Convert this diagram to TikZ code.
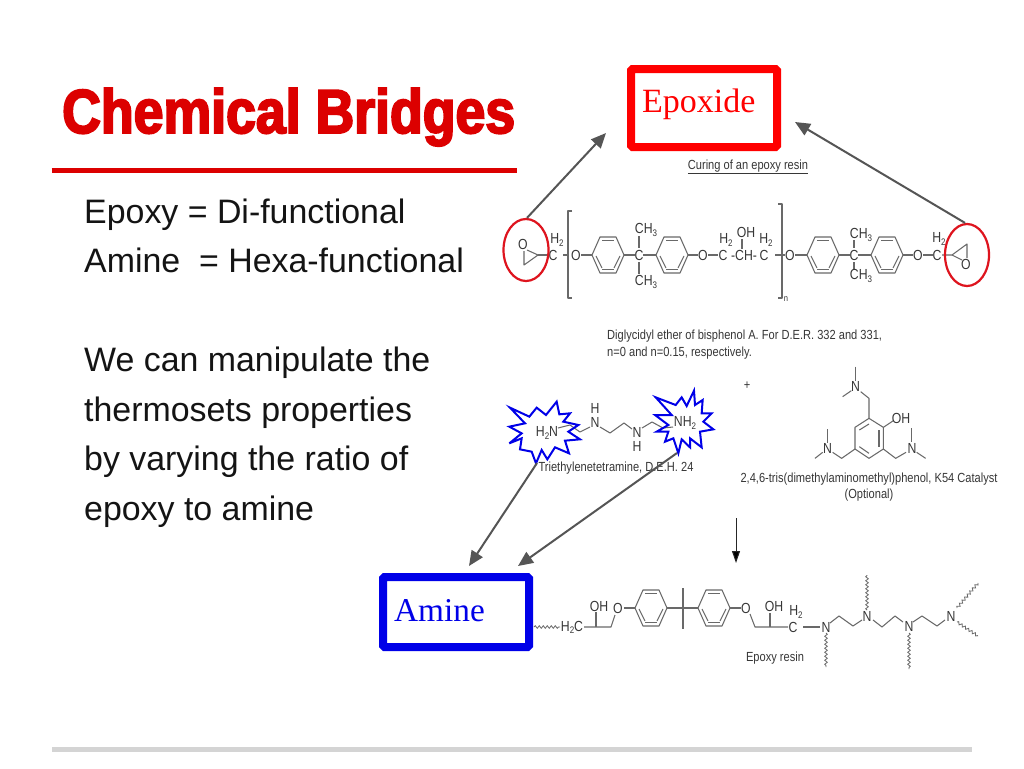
\documentclass[tikz,border=0pt]{standalone}
\usepackage{fontspec}
\setmainfont{Liberation Sans}
\newfontfamily\titlef[FakeBold=3.2,FakeStretch=0.865]{Liberation Sans Bold}
\newfontfamily\narrowf[FakeStretch=0.84]{Liberation Sans}
\newfontfamily\serifb{Liberation Serif}
\usetikzlibrary{arrows.meta,shapes.geometric,decorations.pathmorphing}
\definecolor{titlered}{RGB}{220,0,0}
\definecolor{boxred}{RGB}{255,0,0}
\definecolor{boxblue}{RGB}{0,0,232}
\definecolor{ringred}{RGB}{222,20,30}
\definecolor{bondgrey}{RGB}{105,105,105}
\definecolor{inkgrey}{RGB}{55,55,55}
\definecolor{arrowgrey}{RGB}{85,85,85}
\definecolor{rulegrey}{RGB}{212,212,212}
\newcommand{\mysub}[1]{\raisebox{-2.2pt}{\fontsize{9.5}{10}\selectfont #1}}
\newcommand{\benz}[2]{%
  \draw[bond] (#1-16,#2) -- (#1-8,#2-18) -- (#1+8,#2-18) -- (#1+16,#2) -- (#1+8,#2+18) -- (#1-8,#2+18) -- cycle;
  \draw[bond] (#1-6,#2-14.5) -- (#1+6,#2-14.5);
  \draw[bond] (#1-6,#2+14.5) -- (#1+6,#2+14.5);
  \draw[bond] (#1+12,#2+1) -- (#1+6,#2+13);
  \draw[bond] (#1-12,#2+1) -- (#1-6,#2+13);
}
\tikzset{
  x=1pt,y=-1pt,
  bond/.style={draw=bondgrey,line width=1.05pt,line join=round},
  squig/.style={draw=bondgrey,line width=0.8pt,decorate,decoration={snake,segment length=4pt,amplitude=1.3pt}},
  atomlbl/.style={font=\narrowf\fontsize{14.6}{15}\selectfont,text=inkgrey,inner sep=0pt},
  caption/.style={font=\narrowf\fontsize{13.2}{15}\selectfont,text=inkgrey,inner sep=0pt},
  bodytext/.style={font=\fontsize{33.9}{36}\selectfont,text=black!92,inner sep=0pt,anchor=base west},
  callbox/.style={draw,line width=8pt,rounded corners=1.5pt,inner sep=0pt},
  ringmark/.style={draw=ringred,line width=2.2pt,ellipse,inner sep=0pt,minimum width=45pt,minimum height=62pt},
  pointer/.style={draw=arrowgrey,line width=2pt,-{Triangle[length=15pt,width=13pt,fill=arrowgrey]}},
  star/.style={draw=boxblue,line width=2pt,line join=miter,miter limit=6},
}
\begin{document}
\begin{tikzpicture}
\useasboundingbox[fill=white] (0,0) rectangle (1024,768);
% title and rules
\node[inner sep=0pt,anchor=base west,text=titlered,font=\titlef\fontsize{62}{66}\selectfont] (title) at (62,133) {Chemical Bridges};
\draw[draw=titlered,line width=5.5pt] (51.5,170.5) -- (517,170.5);
\draw[draw=rulegrey,line width=5.5pt] (52,749.5) -- (972,749.5);
% body
\node[bodytext] (b1) at (84,223) {Epoxy = Di-functional};
\node[bodytext] (b2) at (84,272.5) {Amine\ \ = Hexa-functional};
\node[bodytext] (b3) at (84,371.5) {We can manipulate the};
\node[bodytext] (b4) at (84,421) {thermosets properties};
\node[bodytext] (b5) at (84,470.5) {by varying the ratio of};
\node[bodytext] (b6) at (84,520) {epoxy to amine};
% callouts
\draw[callbox,draw=boxred] (631,69) rectangle (777,147);
\node[inner sep=0pt,anchor=base west,text=boxred,font=\serifb\fontsize{34}{36}\selectfont] (epoxide) at (642,112) {Epoxide};
\draw[callbox,draw=boxblue] (383,577) rectangle (529,647);
\node[inner sep=0pt,anchor=base west,text=boxblue,font=\serifb\fontsize{33.3}{36}\selectfont] (amine) at (394,621) {Amine};
% captions
\node[caption] (cur) at (748,167) {\underline{Curing of an epoxy resin}};
\node[caption,anchor=base west] (d1) at (607,339) {Diglycidyl ether of bisphenol A. For D.E.R. 332 and 331,};
\node[caption,anchor=base west] (d2) at (607,356) {n=0 and n=0.15, respectively.};
\node[caption] (plus) at (747,386) {+};
\node[caption] (teta) at (616,468) {Triethylenetetramine, D.E.H. 24};
\node[caption] (k54) at (869,479) {2,4,6-tris(dimethylaminomethyl)phenol, K54 Catalyst};
\node[caption] (opt) at (869,495) {(Optional)};
\node[caption] (res) at (775,658) {Epoxy resin};
% --- epoxy resin molecule
\node[atomlbl] (o1) at (523,244) {O};
\draw[bond] (527,250) -- (538,255) -- (524,265) -- (524,251);
\draw[bond] (538,255) -- (549,255);
\node[atomlbl] (c1) at (553,255) {C};
\node[atomlbl] (h1) at (557,240) {H\mysub{2}};
\draw[bond] (563,255) -- (569,255);
\node[atomlbl] (o2) at (576,255) {O};
\draw[bond] (581,255) -- (592,255);
\benz{608}{255}
\draw[bond] (624,255) -- (635,255);
\node[atomlbl] (c2) at (639,255) {C};
\draw[bond] (643,255) -- (656,255);
\draw[bond] (639,236) -- (639,248);
\draw[bond] (639,262) -- (639,274);
\node[atomlbl] (ch1) at (646,230) {CH\mysub{3}};
\node[atomlbl] (ch2) at (646,282) {CH\mysub{3}};
\benz{672}{255}
\draw[bond] (688,255) -- (698,255);
\node[atomlbl] (o3) at (703,255) {O};
\draw[bond] (708,255) -- (718,255);
\node[atomlbl] (c3) at (723,255) {C};
\node[atomlbl] (h3) at (726,240) {H\mysub{2}};
\node[atomlbl] (chm) at (744,255) {-CH-};
\node[atomlbl] (oh1) at (746,232) {OH};
\draw[bond] (742,239) -- (742,249);
\node[atomlbl] (c4) at (764,255) {C};
\node[atomlbl] (h4) at (766,240) {H\mysub{2}};
\draw[bond] (775,255) -- (785,255);
\node[atomlbl] (o4) at (790,255) {O};
\draw[bond] (795,255) -- (807,255);
\benz{823}{255}
\draw[bond] (839,255) -- (850,255);
\node[atomlbl] (c5) at (854,255) {C};
\draw[bond] (858,255) -- (871,255);
\draw[bond] (854,240) -- (854,248);
\draw[bond] (854,262) -- (854,270);
\node[atomlbl] (ch3) at (861,235) {CH\mysub{3}};
\node[atomlbl] (ch4) at (861,276) {CH\mysub{3}};
\benz{887}{255}
\draw[bond] (903,255) -- (913,255);
\node[atomlbl] (o5) at (918,255) {O};
\draw[bond] (923,255) -- (933,255);
\node[atomlbl] (c6) at (937,255) {C};
\node[atomlbl] (h6) at (939,239) {H\mysub{2}};
\draw[bond] (942,255) -- (952,255) -- (967,244) -- (967,258);
\draw[bond] (952,255) -- (962,260);
\node[atomlbl] (o6) at (966,264) {O};
\draw[bond] (572,211) -- (568,211) -- (568,298) -- (572,298);
\draw[bond] (778,204) -- (782,204) -- (782,298) -- (778,298);
\node[atomlbl,font=\narrowf\fontsize{9}{10}\selectfont] (nsub) at (786,299) {n};
% --- amine molecule
\node[atomlbl] (hn) at (547,433) {H\mysub{2}N};
\draw[bond] (558,428) -- (570,425) -- (580,432) -- (590,427);
\node[atomlbl] (n1) at (595,422) {N};
\node[atomlbl] (n1h) at (595,408) {H};
\draw[bond] (600,427) -- (610,433) -- (624,423) -- (632,429);
\node[atomlbl] (n2) at (637,432) {N};
\node[atomlbl] (n2h) at (637,446) {H};
\draw[bond] (642,428) -- (652,422) -- (663,428) -- (673,427);
\node[atomlbl] (nh2) at (685,423) {NH\mysub{2}};
\begin{scope}[shift={(500,370)},scale=1/3]
\draw[star] (30,113) -- (88,140) -- (110,113) -- (138,135) -- (170,95) -- (178,133) -- (210,130) -- (190,155) -- (235,165) -- (205,185) -- (240,208) -- (195,212) -- (207,250) -- (165,232) -- (142,268) -- (125,240) -- (108,280) -- (95,245) -- (60,238) -- (65,205) -- (28,220) -- (65,190) -- (28,170) -- (75,160) -- cycle;
\draw[star] (467,82) -- (527,105) -- (545,82) -- (560,108) -- (582,62) -- (585,105) -- (608,90) -- (605,130) -- (635,130) -- (610,155) -- (640,178) -- (600,185) -- (605,232) -- (570,205) -- (570,232) -- (545,208) -- (535,250) -- (520,205) -- (495,215) -- (505,185) -- (470,185) -- (505,165) -- (465,135) -- (515,135) -- cycle;
\end{scope}
% --- catalyst
\begin{scope}[shift={(730,350)},scale=1/3]
\draw[bond] (417,205) -- (460,232) -- (460,297) -- (417,325) -- (375,297) -- (375,232) -- cycle;
\draw[bond] (417,222) -- (388,240);
\draw[bond] (447,240) -- (447,290);
\draw[bond] (388,290) -- (417,310);
\draw[bond] (417,205) -- (417,145) -- (392,125);
\draw[bond] (377,50) -- (377,92);
\draw[bond] (338,140) -- (364,122);
\draw[bond] (460,232) -- (490,212);
\draw[bond] (460,297) -- (497,325) -- (528,307);
\draw[bond] (545,235) -- (545,277);
\draw[bond] (560,307) -- (587,325);
\draw[bond] (375,297) -- (335,325) -- (308,307);
\draw[bond] (293,237) -- (293,278);
\draw[bond] (278,307) -- (255,325);
\end{scope}
\node[atomlbl] (kn1) at (855.5,386.5) {N};
\node[atomlbl] (koh) at (901,418) {OH};
\node[atomlbl] (kn2) at (912,448) {N};
\node[atomlbl] (kn3) at (827.5,448) {N};
% --- cured network
\draw[squig] (534,627) -- (560,627);
\node[atomlbl] (h2c) at (572,627) {H\mysub{2}C};
\draw[bond] (584,627) -- (611,627) -- (615,615);
\draw[bond] (596,612) -- (596,627);
\node[atomlbl] (oh2) at (599,606) {OH};
\node[atomlbl] (o7) at (618,608) {O};
\draw[bond] (624,608) -- (635,608);
\benz{651}{608}
\draw[bond] (667,608) -- (698,608);
\draw[bond] (683,588) -- (683,629);
\benz{714}{608}
\draw[bond] (730,608) -- (741,608);
\node[atomlbl] (o8) at (746,608) {O};
\draw[bond] (750,614) -- (755,627) -- (788,627);
\draw[bond] (770,613) -- (770,627);
\node[atomlbl] (oh3) at (774,606) {OH};
\node[atomlbl] (c7) at (793,627) {C};
\node[atomlbl] (h7) at (796,612) {H\mysub{2}};
\draw[bond] (803,627) -- (820,627);
\node[atomlbl] (n3) at (826,627) {N};
\draw[bond] (830,623) -- (839,616) -- (853,626) -- (862,620);
\node[atomlbl] (n4) at (867,616) {N};
\draw[bond] (873,620) -- (882,627) -- (895,616) -- (903,622);
\node[atomlbl] (n5) at (909,626) {N};
\draw[bond] (913,622) -- (922,616) -- (937,626) -- (945,620);
\node[atomlbl] (n6) at (951,616) {N};
\draw[squig] (826,633) -- (826,667);
\draw[squig] (867,610) -- (867,575);
\draw[squig] (909,633) -- (909,669);
\draw[squig] (957,608) -- (978,583);
\draw[squig] (957,622) -- (978,636);
% --- marks and pointers
\node[ringmark] (lring) at (526,250) {};
\node[ringmark,minimum width=44pt] (rring) at (967,255) {};
\coordinate (tipEL) at (606,133);
\coordinate (tipER) at (795,122);
\coordinate (starL) at (537,463);
\coordinate (starR) at (677,453);
\coordinate (tipAL) at (469,566);
\coordinate (tipAR) at (518,566);
\coordinate (dnA) at (736,518);
\coordinate (dnB) at (736,563);
\draw[pointer] (lring.north) ++(1,0) -- (tipEL);
\draw[pointer] (rring.north) ++(-2,0) -- (tipER);
\draw[pointer] (starL) -- (tipAL);
\draw[pointer] (starR) -- (tipAR);
\draw[draw=black!85,line width=1pt,-{Triangle[length=12pt,width=8pt,fill=black]}] (dnA) -- (dnB);
\end{tikzpicture}
\end{document}
